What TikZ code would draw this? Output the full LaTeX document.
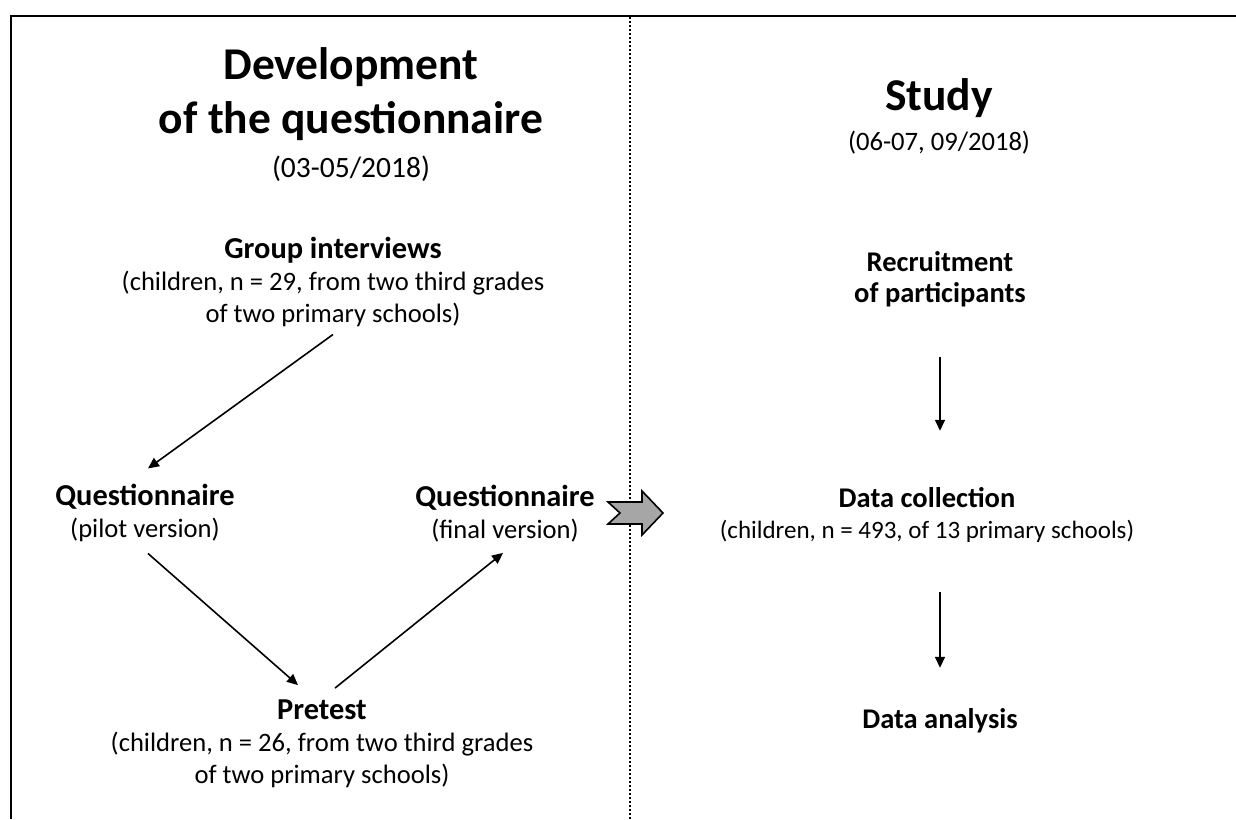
\documentclass[tikz,border=0pt]{standalone}
\usepackage{fontspec}
\setmainfont{Carlito}
\usetikzlibrary{arrows.meta,calc}
\newcommand{\titlesize}{\fontsize{45.5}{54}\selectfont\bfseries}
\newcommand{\headsize}{\fontsize{30.4}{32}\selectfont\bfseries}
\newcommand{\bodysize}{\fontsize{26.6}{32}\selectfont}
\newcommand{\rheadsize}{\fontsize{28.5}{31}\selectfont\bfseries}
\newcommand{\rbodysize}{\fontsize{25}{31}\selectfont}

\begin{document}
\begin{tikzpicture}[x=1pt,y=-1pt,every node/.style={inner sep=0pt,align=center,font=\bodysize},
  flow/.style={line width=1.6pt,-{Triangle[length=11pt,width=10pt]}}]
\useasboundingbox (0,0) rectangle (1236,819);
\fill[white] (0,0) rectangle (1236,819);
% frame and divider
\draw[line width=2pt] (11,819) -- (11,16) -- (1236,16);
\draw[line width=1.6pt,dash pattern=on 1.6pt off 2.4pt] (630,17) -- (630,819);
% left part: development
\node[anchor=base,font=\titlesize] (devtitle) at (351,133) {Development\\of the questionnaire};
\node[anchor=base,font=\fontsize{29.5}{32}\selectfont] (devdate) at (351,177) {(03-05/2018)};
\node[anchor=base] (groupint) at (333,322) {{\headsize Group interviews}\\(children, n = 29, from two third grades\\of two primary schools)};
\node[anchor=base] (pilot) at (145,537) {{\headsize Questionnaire}\\(pilot version)};
\node[anchor=base] (final) at (505,538) {{\headsize Questionnaire}\\(final version)};
\node[anchor=base] (pretest) at (322,783) {{\headsize Pretest}\\(children, n = 26, from two third grades\\of two primary schools)};
\draw[flow] ([yshift=-8pt]groupint.south) -- ([xshift=3pt,yshift=15pt]pilot.north);
\draw[flow] ([xshift=3pt,yshift=-12pt]pilot.south) -- ([xshift=-24pt,yshift=14pt]pretest.north);
\draw[flow] ([xshift=13pt,yshift=11pt]pretest.north) -- ([xshift=-2pt,yshift=-11pt]final.south);
% block arrow
\draw[line width=1.6pt,fill=black!35,line join=miter] (608,502) -- (620,513) -- (608,524) -- (642,524) -- (642,535) -- (663,513) -- (642,491) -- (642,502) -- cycle;
% right part: study
\node[anchor=base,font=\titlesize] (studytitle) at (939,110) {Study};
\node[anchor=base,font=\fontsize{26.6}{32}\selectfont] (studydate) at (939,150) {(06-07, 09/2018)};
\node[anchor=base,font=\rheadsize] (recruit) at (940,302) {Recruitment\\of participants};
\node[anchor=base,font=\rbodysize] (collect) at (927,538) {{\rheadsize Data collection}\\(children, n = 493, of 13 primary schools)};
\node[anchor=base,font=\rheadsize] (analysis) at (940,728) {Data analysis};
\draw[flow,shorten <=50pt,shorten >=56pt] (recruit.south) -- (recruit.south |- collect.north);
\draw[flow,shorten <=50pt,shorten >=40pt] (collect.south -| analysis.north) -- (analysis.north);
\end{tikzpicture}
\end{document}
